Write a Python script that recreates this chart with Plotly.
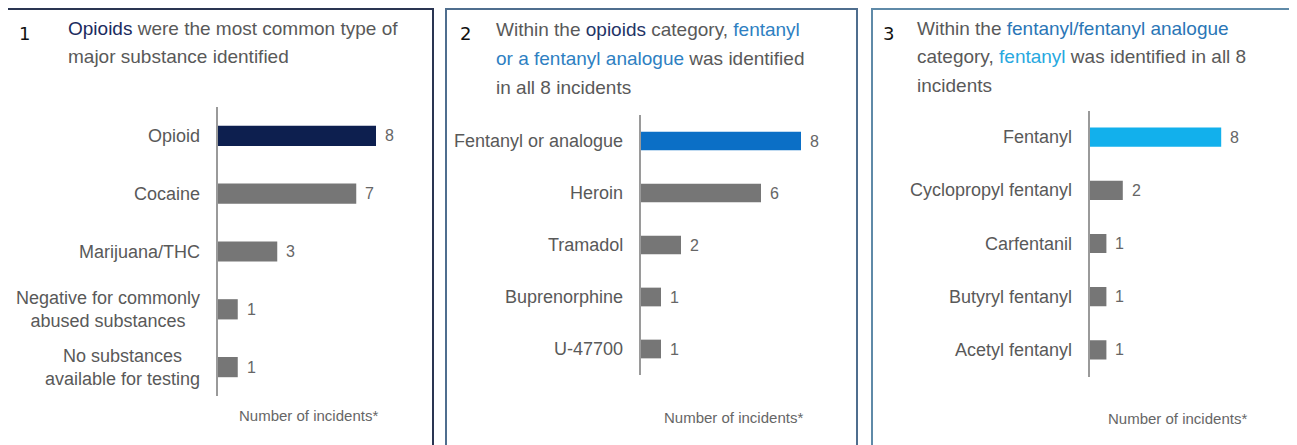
import plotly.graph_objects as go

# The page body adds an 8px margin, so the figure is drawn 8px smaller
# and all pixel positions (measured on the 1297x445 page) are offset by 8.
OFF = 8
W, H = 1297 - OFF, 445 - OFF

# ---------------- data ----------------
p1_categories = ["Opioid", "Cocaine", "Marijuana/THC",
                 "Negative for commonly<br>abused substances",
                 "No substances<br>available for testing"]
p1_values = [8, 7, 3, 1, 1]

p2_categories = ["Fentanyl or analogue", "Heroin", "Tramadol", "Buprenorphine", "U-47700"]
p2_values = [8, 6, 2, 1, 1]

p3_categories = ["Fentanyl", "Cyclopropyl fentanyl", "Carfentanil", "Butyryl fentanyl", "Acetyl fentanyl"]
p3_values = [8, 2, 1, 1, 1]

axis_title = "Number of incidents*"

# ---------------- style ----------------
GRAY_BAR = "#767676"
TXT = "#595959"
NAVY = "#0d1f4f"
BLUE = "#0b6fc6"
CYAN = "#12b0ec"
LABEL_FONT = "Liberation Sans"


def px_x(px):
    return (px - OFF) / W


def px_y(py):
    return 1 - (py - OFF) / H


panels = [
    dict(cats=p1_categories, vals=p1_values, hi=NAVY, ax=218, unit=19.75,
         top=107, bot=396, bw=0.35, border="#2a3552", bx0=7, bx1=433,
         title_xc=308, title_y=415),
    dict(cats=p2_categories, vals=p2_values, hi=BLUE, ax=641, unit=20.0,
         top=115, bot=375, bw=0.36, border="#4f6e8e", bx0=446, bx1=857,
         title_xc=733, title_y=417),
    dict(cats=p3_categories, vals=p3_values, hi=CYAN, ax=1090, unit=16.4,
         top=110.5, bot=376.5, bw=0.36, border="#5f8aa8", bx0=872, bx1=1320,
         title_xc=1177, title_y=418),
]

fig = go.Figure()
annotations = []
shapes = []
layout_axes = {}

for i, p in enumerate(panels, start=1):
    xa = "x" if i == 1 else f"x{i}"
    ya = "y" if i == 1 else f"y{i}"
    colors = [p["hi"]] + [GRAY_BAR] * (len(p["vals"]) - 1)
    fig.add_trace(go.Bar(
        x=p["vals"], y=p["cats"], orientation="h",
        marker=dict(color=colors, line=dict(width=0)),
        width=p["bw"], xaxis=xa, yaxis=ya, showlegend=False,
        hoverinfo="x+y",
    ))
    layout_axes[f"xaxis{'' if i == 1 else i}"] = dict(
        domain=[px_x(p["ax"]), px_x(p["ax"] + p["unit"] * 10)],
        range=[0, 10], visible=False, fixedrange=True, anchor=ya,
    )
    layout_axes[f"yaxis{'' if i == 1 else i}"] = dict(
        domain=[px_y(p["bot"]), px_y(p["top"])],
        type="category", categoryorder="array", categoryarray=p["cats"],
        range=[len(p["cats"]) - 0.5, -0.5],
        showticklabels=False, ticks="", showgrid=False, zeroline=False,
        showline=True, linecolor="#9a9a9a", linewidth=2,
        anchor=xa, fixedrange=True,
    )
    # category labels
    for c in p["cats"]:
        annotations.append(dict(
            x=px_x(p["ax"] - 16), xref="paper", y=c, yref=ya,
            text=c, showarrow=False, xanchor="right", yanchor="middle",
            align="center", font=dict(family=LABEL_FONT, size=18, color=TXT),
        ))
    # value labels
    for c, v in zip(p["cats"], p["vals"]):
        annotations.append(dict(
            x=v, xref=xa, y=c, yref=ya, text=str(v), showarrow=False,
            xanchor="left", yanchor="middle", xshift=7,
            font=dict(family=LABEL_FONT, size=16, color="#666666"),
        ))
    # axis title
    annotations.append(dict(
        x=px_x(p["title_xc"]), xref="paper", y=px_y(p["title_y"]), yref="paper",
        text=axis_title, showarrow=False, xanchor="center", yanchor="middle",
        font=dict(family=LABEL_FONT, size=15, color="#666666"),
    ))
    # border
    shapes.append(dict(
        type="rect", xref="paper", yref="paper",
        x0=px_x(p["bx0"]), x1=px_x(p["bx1"]), y0=-0.1, y1=px_y(9),
        line=dict(color=p["border"], width=2), fillcolor="rgba(0,0,0,0)",
        layer="below",
    ))

# ---------------- panel titles ----------------
TF = dict(family=LABEL_FONT, size=19, color=TXT)
title_lines = [
    # (x_px, y_px, html)
    (66, 29, "<span style='color:#1b2b5e'>Opioids</span> were the most common type of"),
    (66, 57, "major substance identified"),
    (494, 30, "Within the <span style='color:#1f3466'>opioids</span> category, "
              "<span style='color:#2e7fc2'>fentanyl</span>"),
    (494, 59, "<span style='color:#2e7fc2'>or a fentanyl analogue</span> was identified"),
    (494, 88, "in all 8 incidents"),
    (915, 29, "Within the <span style='color:#2a76b6'>fentanyl/fentanyl analogue</span>"),
    (915, 57, "category, <span style='color:#27a8e0'>fentanyl</span> was identified in all 8"),
    (915, 86, "incidents"),
]
for x, y, t in title_lines:
    annotations.append(dict(
        x=px_x(x), xref="paper", y=px_y(y), yref="paper", text=t,
        showarrow=False, xanchor="left", yanchor="middle", font=TF,
    ))

for x, y, t in [(24, 33, "1"), (465, 33, "2"), (888, 33, "3")]:
    annotations.append(dict(
        x=px_x(x), xref="paper", y=px_y(y), yref="paper", text=t,
        showarrow=False, xanchor="center", yanchor="middle",
        font=dict(family="DejaVu Sans", size=18, color="#111111"),
    ))

fig.update_layout(
    width=W, height=H, margin=dict(l=0, r=0, t=0, b=0),
    paper_bgcolor="white", plot_bgcolor="white",
    annotations=annotations, shapes=shapes, bargap=0.6,
    **layout_axes,
)

fig.write_html("out.html")
